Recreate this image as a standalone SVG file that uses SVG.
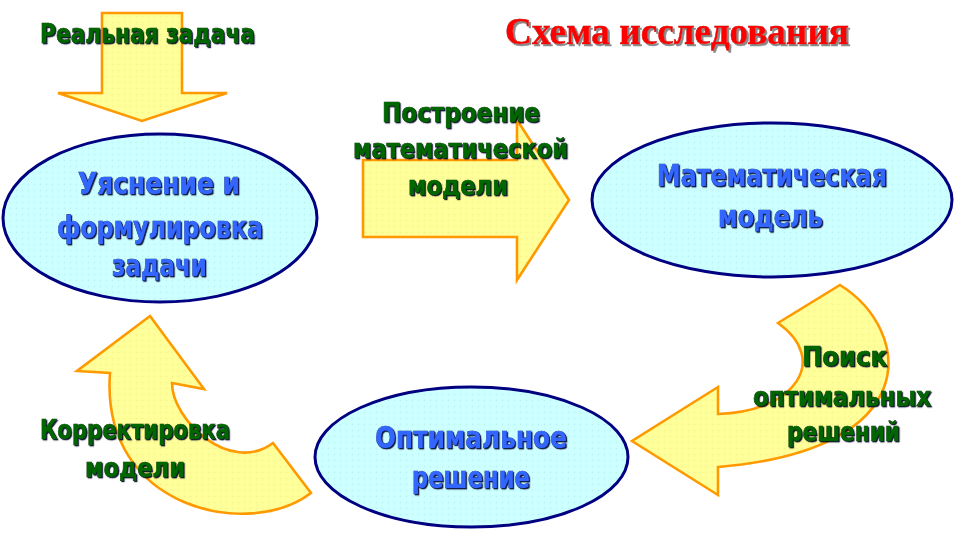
<svg xmlns="http://www.w3.org/2000/svg" width="956" height="534" viewBox="0 0 956 534">
  <defs>
    <pattern id="cyanDots" width="6" height="6" patternUnits="userSpaceOnUse">
      <rect width="6" height="6" fill="#ccffff"/>
      <circle cx="1.5" cy="1.5" r="0.7" fill="#e8ffff"/>
      <circle cx="4.5" cy="4.5" r="0.7" fill="#b8f0f0"/>
    </pattern>
    <pattern id="yellowDots" width="6" height="6" patternUnits="userSpaceOnUse">
      <rect width="6" height="6" fill="#ffff99"/>
      <circle cx="1.5" cy="1.5" r="0.7" fill="#ffffc0"/>
      <circle cx="4.5" cy="4.5" r="0.7" fill="#f2f08a"/>
    </pattern>
    <filter id="shadowDark" x="-25%" y="-50%" width="150%" height="200%">
      <feDropShadow dx="1.2" dy="1.2" stdDeviation="0.4" flood-color="#000020" flood-opacity="0.9"/>
    </filter>
    <filter id="shadowGray" x="-25%" y="-50%" width="150%" height="200%">
      <feDropShadow dx="2" dy="2" stdDeviation="0.3" flood-color="#8a8a8a" flood-opacity="1"/>
    </filter>
  </defs>
  <style>
    .node { fill: url(#cyanDots); stroke: #000080; stroke-width: 3; }
    .arrow { fill: url(#yellowDots); stroke: #ff9900; stroke-width: 2.6; stroke-linejoin: miter; }
    .ntext { font-family: "DejaVu Sans", "Liberation Sans", sans-serif; font-weight: bold; font-size: 30px; fill: #3366ff; stroke: #0a1a70; stroke-width: 0.7; paint-order: stroke; filter: url(#shadowDark); }
    .ltext { font-family: "DejaVu Sans", "Liberation Sans", sans-serif; font-weight: bold; font-size: 27px; fill: #006600; stroke: #002200; stroke-width: 0.7; paint-order: stroke; filter: url(#shadowDark); }
    .title { font-family: "Liberation Serif", "Times New Roman", serif; font-weight: bold; font-size: 38px; fill: #ff0000; stroke: #990000; stroke-width: 0.5; paint-order: stroke; filter: url(#shadowGray); }
  </style>
  <rect width="956" height="534" fill="#ffffff"/>

  <g id="title">
    <text class="title" x="505" y="44" textLength="344" lengthAdjust="spacingAndGlyphs">Схема исследования</text>
  </g>

  <g id="connectors">
    <g id="arrow-real-task">
      <polygon class="arrow" points="102,13 182,13 182,93 227,93 142,121 58,93 102,93"/>
      <text class="ltext" x="40" y="43" textLength="215" lengthAdjust="spacingAndGlyphs">Реальная задача</text>
    </g>
    <g id="arrow-build-model">
      <polygon class="arrow" points="363,160 517,160 517,120 569,200 517,280 517,237 363,237"/>
      <text class="ltext" x="382" y="122" textLength="158" lengthAdjust="spacingAndGlyphs">Построение</text>
      <text class="ltext" x="353" y="158" textLength="215" lengthAdjust="spacingAndGlyphs">математической</text>
      <text class="ltext" x="408" y="195" textLength="100" lengthAdjust="spacingAndGlyphs">модели</text>
    </g>
    <g id="arrow-search">
      <path class="arrow" d="M840,285 C912,330 927,450 718,467 L718,495 L632,441 L718,387 L718,414 C795,412 830,360 778,323 Z"/>
      <text class="ltext" x="802" y="366" textLength="85" lengthAdjust="spacingAndGlyphs">Поиск</text>
      <text class="ltext" x="753" y="406" textLength="178" lengthAdjust="spacingAndGlyphs">оптимальных</text>
      <text class="ltext" x="787" y="441" textLength="113" lengthAdjust="spacingAndGlyphs">решений</text>
    </g>
    <g id="arrow-correct">
      <path class="arrow" d="M150,316 L204,389 L172,383 C172,420 230,475 273,443 L311,493 C250,540 100,510 110,373 L77,371 Z"/>
      <text class="ltext" x="40" y="439" textLength="190" lengthAdjust="spacingAndGlyphs">Корректировка</text>
      <text class="ltext" x="85" y="477" textLength="100" lengthAdjust="spacingAndGlyphs">модели</text>
    </g>
  </g>

  <g id="node-formulation">
    <ellipse class="node" cx="160" cy="218" rx="157" ry="84"/>
    <text class="ntext" x="78" y="194" textLength="162" lengthAdjust="spacingAndGlyphs">Уяснение и</text>
    <text class="ntext" x="57" y="238" textLength="206" lengthAdjust="spacingAndGlyphs">формулировка</text>
    <text class="ntext" x="112" y="276" textLength="95" lengthAdjust="spacingAndGlyphs">задачи</text>
  </g>

  <g id="node-model">
    <ellipse class="node" cx="772" cy="200" rx="180" ry="77"/>
    <text class="ntext" x="657" y="186" textLength="230" lengthAdjust="spacingAndGlyphs">Математическая</text>
    <text class="ntext" x="718" y="227" textLength="105" lengthAdjust="spacingAndGlyphs">модель</text>
  </g>

  <g id="node-solution">
    <ellipse class="node" cx="471.5" cy="457" rx="156.5" ry="70"/>
    <text class="ntext" x="375" y="448" textLength="192" lengthAdjust="spacingAndGlyphs">Оптимальное</text>
    <text class="ntext" x="412" y="488" textLength="118" lengthAdjust="spacingAndGlyphs">решение</text>
  </g>
</svg>
